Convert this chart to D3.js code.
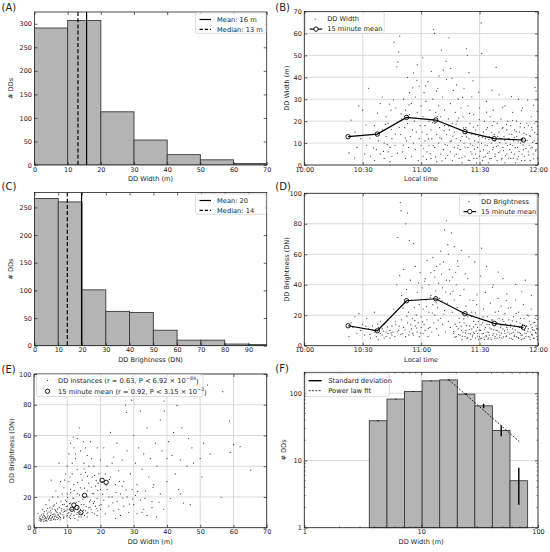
<!DOCTYPE html>
<html>
<head>
<meta charset="utf-8">
<script src="https://cdn.jsdelivr.net/npm/d3@7"></script>
<style>
  body { margin: 0; background: #fff; }
  text { font-family: "DejaVu Sans", sans-serif; fill: #222; }
</style>
</head>
<body>
<div id="fig"></div>
<script>
// ---- data ----

// (A) histogram of DD width
const widthBins = [0, 10, 20, 30, 40, 50, 60, 70];
const widthCounts = [291, 307, 113, 53, 22, 11, 3];
const widthMean = 15.7, widthMedian = 13.1;

// (C) histogram of DD brightness
const brightBins = [0, 10, 20, 30, 40, 50, 60, 70, 80, 90, 100];
const brightCounts = [266, 260, 101, 62, 60, 28, 10, 10, 3, 2];
const brightMean = 19.8, brightMedian = 13.8;

// 15 minute means (minutes after 10:00)
const meanTimes = [22.5, 37.5, 52.5, 67.5, 82.5, 97.5, 112.5];
const meanWidth = [12.9, 14.1, 21.7, 20.5, 15.2, 12.0, 11.4];
const meanBright = [13.1, 9.8, 29.5, 30.8, 21.0, 14.7, 12.0];

// (B) DD width vs time: [minutes after 10:00, width m]
const timeWidth = [
  [23,5.5],[24,20.5],[26,15],[27,8],[28,27],[29,12],[30,25],[31,5],
  [32,9],[33,35],[34,4],[35,14],[36,18],[36,2],[37,7],[38,11],[39,28],[39,5],[40,16],[40,31],[41,3],[41,10],
  [42,13],[42,22],[43,6],[43,19],[44,8],[44,1.5],[44.5,25],[45,12],[45,4],
  [45.5,18],[46,56],[46.5,9],[47,26],[47.5,44.8],[48,47],[48.5,51.6],[49,58.8],[49.5,14],[50,21],[50.5,6],
  [51,30],[51.5,17],[52,3],[52,25],[52.5,11],[53,40],[53,19],[53.5,8],[54,23],[54,33],[54.5,13],[55,4],
  [55,28],[55.5,16],[56,42],[56,10],[56.5,20],[57,7],[57,31],[57.5,15],[58,45.7],[58,24],[58.5,2],[59,12],
  [59,36],[59.5,18],[60,9],[60,27],
  [60.5,15],[61,22],[61,4],[61.5,33],[62,11],[62,18],[62.5,29],[63,6],[63,14],[63.5,38],[64,20],[64,9],
  [64.5,25],[65,3],[65,16],[65.5,12],[66,30],[66.4,61.8],[66.8,60],[67,8],[67,19],[67.5,24],[68,1.5],[68,14],
  [68.5,35],[69,10],[69,27],[69.5,17],[70,5],[70,22],[70.4,52.4],[70.5,12],[71,31],[71.4,43.3],[71.5,7],
  [72,18],[72,25],[72.5,3],[73,14],[73,39],[73.5,9],[74,21],[74.3,58],[74.5,16],[75,28],[75.2,44],[75,6],
  [75.5,11],[76,19],[76,2],[76.5,34],[77,8],[77,15],[77.5,24],[78,5],[78,12],[78.5,20],[79,9],[79,30],
  [79.5,3],[80,16],[80,7],[80.5,26],[81,13],[81,1],[81.5,22],[82,10],[82,35],[82.5,4],[83,17],[83.2,53],
  [83.7,50],[84,8],[84,27],[84.5,12],[85,2],[85,19],[85.5,6],[86,14],[86,31],[86.5,9],[87,3],[87,23],
  [87.5,11],[88,16],[88,5],[88.5,1],[89,18],[89,8],[89.5,13],[90,4],[90,26],[90.8,64.8],[91.1,50.9],
  [91,10],[91.5,2],[92,15],[92,7],[92.5,20],[93,12],[93,4],[93.5,29],[94,9],[94,17],[94.5,1],[95,13],
  [95,6],[95.5,22],[96,10],[96,3],[96.5,18],[97,8],[97,25],[97.5,14],[98,5],[98.5,44.5],[98,11],[99,19],
  [99,2],[99.5,9],[100,15],[100,32],[100.5,6],[101,12],[101,21],[101.5,3],[102,17],[102,8],[102.5,13],
  [103,27],[103,1],[103.5,10],[104,16],[104,5],[104.5,20],[105,12],
  [105.5,7],[106,18],[106,3],[106.5,14],[107,9],[107,24],[107.5,11],[108,5],[108,16],[108.5,1],[109,13],
  [109,20],[109.5,8],[110,30],[110,4],[110.5,15],[111,10],[111,19],[111.5,2],[112,12],[112,26],[112.5,7],
  [113,17],[113,4],[113.5,11],[114,14],[114.7,29.6],[115,6],[115,18],[115.5,9],[116,13],[116,2],[116.5,22],
  [117,8],[117,16],[117.5,5],[118,11],[118.5,35.4],[118,19],[119,33.7],[119,7],[119.5,14],[119.8,3],
  [61.3,7.4],[62.7,2.6],[63.8,11.9],[64.6,5.2],[65.9,19.3],[66.2,8.8],[67.4,3.7],[68.3,22.1],[69.6,12.4],
  [70.7,1.9],[71.8,15.6],[72.3,9.3],[73.6,4.4],[74.1,17.8],[74.9,10.7],[76.3,13.2],[77.2,4.1],[77.9,18.6],
  [78.8,7.7],[79.3,21.4],[80.2,11.1],[80.9,3.3],[81.7,16.9],[82.4,8.2],[83.3,12.8],[84.2,2.2],[84.8,23.5],
  [85.3,9.6],[86.1,5.1],[86.8,17.3],[87.3,7.2],[87.9,13.8],[88.6,3.1],[89.2,10.4],[89.8,20.7],[90.3,6.3],
  [91.4,12.7],[92.2,3.6],[92.8,9.1],[93.4,16.2],[94.2,5.4],[94.8,11.6],[95.3,2.9],[96.2,14.7],[96.8,7.1],
  [97.3,19.8],[97.9,3.9],[98.7,8.4],[99.3,13.1],[99.8,5.7],[100.4,10.2],[101.2,2.4],[101.7,16.8],[102.3,6.6],
  [102.8,11.3],[103.3,4.2],[103.8,18.4],[104.3,8.9],[104.9,3.2],[105.2,14.1],[105.8,9.4],[106.3,5.8],
  [106.9,20.3],[107.3,3.1],[107.8,12.6],[108.3,7.9],[108.8,15.2],[109.3,2.7],[109.8,10.6],[110.3,6.1],
  [110.8,17.4],[111.3,11.8],[111.8,4.9],[112.3,9.2],[112.8,14.6],[113.3,2.1],[113.8,7.5],[114.3,19.1],
  [114.4,11.2],[115.3,4.6],[115.8,13.4],[116.3,7.7],[116.8,17.2],[117.3,10.3],[117.8,2.8],[118.3,14.9],
  [118.8,6.4],[119.3,9.8],[119.7,17.6],[119.6,24.5],[117.6,27.3],[111.6,24.8],[106.4,31.2],[101.9,26.4],
  [96.4,34.1],[93.6,24.1],[89.6,33.2],[86.6,38.4],[84.6,42.1],[81.3,30.8],[78.2,36.5],[75.8,39.6],
  [72.8,47.3],[69.2,40.6],[67.9,33.8],[65.2,42.7],[62.3,36.1],[60.8,48.9],[57.8,38.6],[55.7,35.2],
  [53.8,27.4],[51.8,12.3],[50.8,9.1],[49.7,23.3],[48.8,17.2],[47.8,5.4],[46.8,14.1],[45.8,29.7],[44.7,16.3],
  [43.7,27.8],[42.6,9.4],[41.6,18.5],[40.6,6.2],[38.6,14.6],[37.6,23.7],[35.6,7.8],[33.7,12.3],[31.7,18.2],
  [27.6,13.4],[25.8,3.2]
];

// (D) DD brightness vs time: [minutes after 10:00, DN]
const timeBright = [
  [23,6],[24,15],[25,12],[26,19],[27,8],[28,21],[29,10],[30,14],
  [31,7],[32,18],[33,11],[34,5],[35,13],[36,9],[36,22],[37,6],[38,12],[38,4],[39,8],[39,16],[40,7],[40,11],
  [41,5],[41,14],[42,9],[42,6],[43,17],[43,8],[44,10],[44,5],[45,13],[45,7],
  [45.5,9],[46,24],[46.5,6],[47,14],[47.5,40],[48,71],[48.5,10],[49,46],[49.3,93.9],[49.7,88.6],[50,17],
  [50,33],[50.5,8],[51,50],[51,12],[51.5,28],[52,80],[52,6],[52.5,37],[53,87],[53,15],[53.5,22],[54,69],
  [54,9],[54.5,43],[55,11],[55,30],[55.5,18],[56,67],[56,7],[56.5,25],[57,13],[57,52],[57.5,20],[58,9],
  [58,35],[58.5,15],[59,27],[59,6],[59.5,48],[60,12],[60,19],
  [60.5,38],[61,8],[61,24],[61.5,14],[62,44],[62,10],[62.5,30],[63,17],[63,56],[63.5,6],[64,22],[64,40],
  [64.5,12],[65,33],[65,48],[65.5,9],[66,27],[66,58],[66.5,15],[67,45],[67,20],[67.5,36],[68,11],[68,52],
  [68.5,25],[69,41],[69,7],[69.5,31],[70,62],[70,18],[70.5,47],[71,14],[71,38],[71.5,55],[72,23],[72,76],
  [72.5,9],[73,82],[73,43],[73.5,28],[74,60],[74,16],[74.5,50],[75,34],[75,12],
  [75.5,74],[76,22],[76,45],[76.5,8],[77,30],[77,65],[77.5,14],[78,40],[78,6],[78.5,25],[79,11],[79,52],
  [79.5,18],[80,7],[80,33],[80.5,13],[81,21],[81,4],[81.5,9],[82,37],[82,15],[82.5,6],[83,26],[83,10],
  [83.5,5],[84,19],[84,44],[84.5,8],[85,13],[85,30],[85.5,4],[86,11],[86,22],[86.5,7],[87,16],[87,9],
  [87.5,55],[88,5],[88,14],[88.5,27],[89,8],[89,12],[89.5,4],[90,18],[90,6],
  [90.5,10],[91,64],[91,5],[91.5,15],[92,8],[92,24],[92.5,4],[93,12],[93,35],[93.5,6],[94,9],[94,19],
  [94.5,5],[95,14],[95,7],[95.5,28],[96,11],[96,4],[96.5,17],[97,8],[97,40],[97.5,13],[98,6],[98,22],
  [98.5,10],[99,15],[99,5],[99.5,31],[100,9],[100,18],[100.5,7],[101,13],[101,26],[101.5,5],[102,11],
  [102,44],[102.5,16],[103,8],[103,21],[103.5,6],[104,34],[104,12],[104.5,9],[105,17],
  [105.5,5],[106,14],[106,25],[106.5,8],[107,11],[107,4],[107.5,19],[108,7],[108,13],[108.5,30],[109,6],
  [109,16],[109.5,9],[110,22],[110,5],[110.5,12],[111,8],[111,18],[111.5,4],[112,14],[112,7],[112.5,27],
  [113,10],[113,5],[113.5,43],[114,13],[114,8],[114.5,20],[115,6],[115,11],[115.5,16],[116,4],[116,9],
  [116.5,24],[117,12],[117,7],[117.5,15],[118,5],[118,10],[118.5,18],[119,8],[119,13],[119.5,6],[119.8,11],
  [76.7,9.2],[77.4,5.6],[78.3,12.7],[79.2,7.3],[79.8,15.4],[80.7,10.1],[81.3,6.2],[81.9,17.6],[82.8,8.4],
  [83.3,13.2],[83.9,5.1],[84.7,10.6],[85.2,7.7],[85.8,19.3],[86.3,5.8],[86.9,12.4],[87.3,8.1],[87.8,21.5],
  [88.3,9.6],[88.8,6.3],[89.3,15.8],[89.8,10.2],[90.3,4.6],[90.8,13.7],[91.3,7.8],[91.8,18.9],[92.3,5.7],
  [92.7,10.9],[93.3,6.6],[93.8,14.1],[94.3,4.3],[94.7,8.7],[95.3,11.6],[95.8,5.2],[96.3,16.8],[96.8,6.9],
  [97.3,10.4],[97.8,4.7],[98.3,13.6],[98.8,7.2],[99.3,9.8],[99.8,22.6],[100.3,5.5],[100.8,11.9],[101.3,8.2],
  [101.8,17.1],[102.3,5.8],[102.8,9.7],[103.3,14.4],[103.8,6.4],[104.3,10.8],[104.8,24.7],[105.3,7.6],
  [105.8,12.1],[106.3,4.9],[106.8,16.3],[107.3,8.8],[107.8,6.1],[108.3,10.4],[108.8,21.2],[109.3,12.6],
  [109.8,5.3],[110.3,8.6],[110.8,14.7],[111.3,6.9],[111.8,11.2],[112.3,4.5],[112.8,17.8],[113.3,8.3],
  [113.8,6.2],[114.3,12.9],[114.8,9.4],[115.3,19.6],[115.8,5.7],[116.3,13.8],[116.8,7.4],[117.3,10.6],
  [117.8,4.8],[118.3,15.3],[118.8,8.7],[119.3,11.1],[119.7,4.2],[119.6,17.3],[116.6,33.1],[111.7,35.4],
  [108.6,40.2],[103.7,29.6],[99.6,48.3],[96.6,38.4],[93.6,52.1],[90.6,45.7],[88.7,33.4],[86.7,29.6],
  [84.6,58.3],[82.6,47.1],[80.6,62.4],[78.7,55.6],[77.7,48.2],[76.4,35.8],[74.6,42.6],[73.7,66.3],
  [72.7,35.2],[71.7,20.8],[70.7,29.4],[69.7,53.6],[68.7,16.8],[67.7,28.2],[66.7,49.3],[65.7,21.4],
  [64.7,31.8],[63.7,11.4],[62.7,25.7],[61.7,42.3],[60.7,15.6],[59.7,8.3],[58.7,41.2],[57.7,11.6],
  [56.7,16.4],[55.7,8.2],[54.7,13.7],[53.7,7.1],[52.7,19.4],[51.7,10.3],[50.7,24.6],[49.6,7.4],[48.7,12.8],
  [47.7,9.1],[46.7,15.7],[44.6,8.4],[42.7,12.3],[40.7,9.6],[37.7,14.2],[35.7,10.1],[33.7,7.4],[31.6,12.8]
];

// (E) DD width vs brightness: [width m, DN]
const widthBright = [
  [1.5,5],[2,6],[2.2,4.5],[2.5,7],[3,5.5],[3,8],[3.3,6],[3.6,4.8],[4,7],[4,9.5],[4.3,5.5],[4.6,6.5],
  [5,8],[5,11],[5.3,5],[5.6,7],[6,9],[6,6],[6.3,12],[6.6,7.5],[7,5.5],[7,10],[7.3,8],[7.6,13],[8,6.5],
  [8,9],[8.3,11],[8.6,15],[9,7],[9,12],[1.8,7.5],[2.8,9],[3.8,11],[4.8,13],[5.8,14],[6.8,16],[2.4,5.2],
  [3.4,4.6],[4.4,6],[5.4,6.8],[6.4,5.2],[7.4,6.2],[1.2,9],[2.6,12],[3.6,15],[4.6,18],[5.6,20],[6.6,24],
  [5.2,31],[7.2,20],
  [9.5,18],[10,8],[10,14],[10,22],[10.5,10],[10.5,30],[11,6],[11,16],[11,25],[11.5,12],[11.5,35],[12,8],
  [12,19],[12,28],[12.5,14],[12.5,45],[13,10],[13,22],[13,38],[13.5,7],[13.5,17],[14,12],[14,26],[14,50],
  [14.5,9],[14.5,31],[15,15],[15,20],[15,42],[15.5,11],[15.5,36],[16,7],[16,24],[16,47],[16.5,13],
  [16.5,29],[17,18],[17,56],[17.5,10],[17.5,33],[18,22],[18,40],[18.5,14],[18.5,27],[19,8],[19,19],
  [19,52],[19.5,35],[20,12],[20,25],[20,44],[9,26],[9.5,35],[10,40],[10.5,48],[11,55],[11.8,59],[12,52],
  [8.5,22],[8,30],[7.5,42],[9.2,31],[13.6,65],[12.5,48],[11.5,42],[10.8,33],[13,58],[14.8,56],[15.5,52],
  [16.5,40],[17.3,45],[18.2,34],[19.3,29],[9.8,17],[10.2,12],[11.2,9],[12.3,6],[13.2,5],[14.2,7],[15.2,8],
  [16.2,10],[17.2,12],[18.2,9],[19.2,11],[20.2,15],
  [20.5,30],[21,18],[21,52],[21.5,9],[22,25],[22,40],[22.5,14],[23,33],[23,62],[23.5,20],[24,11],[24,46],
  [24.5,28],[25,17],[25,55],[25.5,37],[26,22],[26,8],[26.5,44],[27,14],[27,30],[27.5,79.8],[27.8,75],
  [28,20],[28,50],[28.5,10],[29,35],[29.4,83],[29.5,25],[30,60],[30,15],[30.5,42],[31,9],[31,28],[31.5,52],
  [32,18],[32,76],[32.5,38],[33,12],[33,48],[33.5,24],[34,65],[34,8],[34.5,33],[35,45],[35.5,17],[36,28],
  [36.5,55],[36.9,7],[37,40],[38,22],[38,70],[38.5,50],[39.1,82.4],[39,12],[39.2,76],[40,30],[40,45],
  [21.5,35],[23.5,42],[26.5,27],[24.5,6],[25.5,12],[22.5,20],[30.5,21],[32.5,10],[35.5,13],
  [41,19],[41.5,47],[42,62],[42.5,35],[43,79.4],[43.5,25],[44,44],[44.5,65],[45,16],[46,40],[47,15],
  [47.5,52],[48,42],[50,45],[50.5,33],[51,55],[52.2,92.8],[53,48],[56.3,19.8],[56.8,88.5],[58.8,69.4],
  [59,49],[60,54],[62,52.7],[65.2,37.5],[40.5,56],[44,22],[46.5,58],
  [1.6,6.2],[2.1,5.4],[2.7,6.8],[3.2,7.3],[3.7,5.9],[4.2,8.2],[4.7,7.4],[5.1,6.1],[5.7,8.6],[6.2,7.1],
  [6.7,10.3],[7.2,8.8],[7.7,7.2],[8.2,12.4],[8.7,8.3],[9.2,10.6],[9.7,13.8],[10.2,9.4],[10.7,15.6],
  [11.2,11.7],[11.7,19.2],[12.2,10.8],[12.7,16.4],[13.2,12.9],[13.7,21.3],[14.2,15.1],[14.7,18.6],
  [15.2,25.7],[15.7,13.7],[16.2,20.1],[16.7,16.8],[17.2,26.4],[17.7,22.3],[18.2,17.1],[18.7,30.6],
  [19.2,24.2],[19.7,14.6],[20.7,21.8],[21.7,27.3],[22.7,31.4],[23.7,16.2],[24.7,22.9],[25.7,30.2],
  [26.7,19.3],[27.7,24.6],[28.7,15.4],[29.7,18.7],[31.2,23.6],[33.4,19.1],[35.8,26.3],[37.6,16.7],
  [1.9,4.3],[2.9,4.1],[3.9,4.4],[4.9,4.9],[5.9,5.3],[6.9,6.7],[7.9,5.1],[8.9,6.2],[9.9,7.3],[10.9,7.8],
  [11.9,12.2],[12.9,8.7],[13.9,9.8],[14.9,11.4],[15.9,9.1],[16.9,13.3],[17.9,15.8],[18.9,12.6],[3.1,10.4],
  [4.1,12.6],[5.1,9.7],[6.1,14.8],[7.1,12.1],[8.1,17.3],[9.1,15.2],[10.1,19.7],[11.1,22.8],[12.1,24.1],
  [13.1,29.4],[14.1,34.7],[15.1,38.2],[16.1,33.5],[6.3,8.3],[7.8,9.6],[8.8,10.2],[9.6,11.1],[10.6,6.8],
  [2.3,8.4],[3.5,6.6],[4.5,10.2],[5.5,12.2],[6.5,11.1]
];

// (F) log-binned width histogram
const logBins = [3.6, 5.1, 7.2, 10.2, 14.4, 20.4, 28.8, 40.7, 57.6, 81.5];
const logCounts = [39, 82, 106, 153, 158, 97, 65, 28, 5];
const logStd = [0.8, 1.2, 1.5, 2, 2.5, 3, 5, 5, 2.8];
const fitX = [17.3, 69.2];
const fitY = [158, 19.1];

// ---- drawing ----
const W = 550, H = 552;
const tickFont = 6.5, labelFont = 6.6, legendFont = 6.7;
const ink = "#222";
const barFill = "#b4b4b4", barEdge = "#3a3a3a", gridColor = "#d6d6d6";

const svg = d3.select("#fig").append("svg")
  .attr("width", W).attr("height", H);

function hhmm(m) {
  const h = 10 + Math.floor(m / 60), mm = m % 60;
  return h + ":" + (mm < 10 ? "0" : "") + mm;
}

// sets up one panel: grid, spines, inward ticks on all sides, labels
function makePanel(box, x, y, o) {
  const g = svg.append("g");
  const plot = g.append("g");
  if (o.grid) {
    g.insert("g", ":first-child").selectAll("line").data(o.xTicks).join("line")
      .attr("x1", d => x(d)).attr("x2", d => x(d))
      .attr("y1", box.t).attr("y2", box.b)
      .attr("stroke", gridColor).attr("stroke-width", 0.9);
    g.insert("g", ":first-child").selectAll("line").data(o.yTicks).join("line")
      .attr("x1", box.l).attr("x2", box.r)
      .attr("y1", d => y(d)).attr("y2", d => y(d))
      .attr("stroke", gridColor).attr("stroke-width", 0.9);
  }
  const finish = function() {
    const axes = g.append("g");
    const styleAxis = sel => {
      sel.select(".domain").remove();
      sel.selectAll(".tick line").attr("stroke", ink).attr("stroke-width", 0.7);
      sel.selectAll(".tick text").attr("font-size", tickFont).attr("fill", ink)
        .attr("font-family", "DejaVu Sans");
    };
    const minorX = o.xMinor || [], minorY = o.yMinor || [];
    axes.append("g").attr("transform", `translate(0,${box.b})`)
      .call(d3.axisBottom(x).tickValues(o.xTicks).tickFormat(o.xFormat || (d => d))
        .tickSizeInner(-3).tickSizeOuter(0).tickPadding(2)).call(styleAxis);
    axes.append("g").attr("transform", `translate(0,${box.t})`)
      .call(d3.axisTop(x).tickValues(o.xTicks).tickFormat("")
        .tickSizeInner(-3).tickSizeOuter(0)).call(styleAxis);
    axes.append("g").attr("transform", `translate(${box.l},0)`)
      .call(d3.axisLeft(y).tickValues(o.yTicks).tickFormat(o.yFormat || (d => d))
        .tickSizeInner(-3).tickSizeOuter(0).tickPadding(2.5)).call(styleAxis);
    axes.append("g").attr("transform", `translate(${box.r},0)`)
      .call(d3.axisRight(y).tickValues(o.yTicks).tickFormat("")
        .tickSizeInner(-3).tickSizeOuter(0)).call(styleAxis);
    if (minorX.length) {
      [box.b, box.t].forEach((yy, k) => {
        axes.append("g").selectAll("line").data(minorX).join("line")
          .attr("x1", d => x(d)).attr("x2", d => x(d))
          .attr("y1", yy).attr("y2", k ? yy + 1.6 : yy - 1.6)
          .attr("stroke", ink).attr("stroke-width", 0.5);
      });
    }
    if (minorY.length) {
      [box.l, box.r].forEach((xx, k) => {
        axes.append("g").selectAll("line").data(minorY).join("line")
          .attr("y1", d => y(d)).attr("y2", d => y(d))
          .attr("x1", xx).attr("x2", k ? xx - 1.6 : xx + 1.6)
          .attr("stroke", ink).attr("stroke-width", 0.5);
      });
    }
    axes.append("rect")
      .attr("x", box.l).attr("y", box.t)
      .attr("width", box.r - box.l).attr("height", box.b - box.t)
      .attr("fill", "none").attr("stroke", ink).attr("stroke-width", 0.8);
    g.append("text").attr("x", (box.l + box.r) / 2).attr("y", box.b + 16)
      .attr("text-anchor", "middle").attr("font-size", labelFont).attr("fill", ink).text(o.xLabel);
    g.append("text")
      .attr("transform", `translate(${box.l - o.yLabelOff},${(box.t + box.b) / 2}) rotate(-90)`)
      .attr("text-anchor", "middle").attr("dy", "0.35em")
      .attr("font-size", labelFont).attr("fill", ink).text(o.yLabel);
  };
  return { g, plot, finish };
}

function legendBox(x0, y0, w, h) {
  svg.append("rect").attr("x", x0).attr("y", y0).attr("width", w).attr("height", h)
    .attr("rx", 1.5).attr("fill", "#fff").attr("fill-opacity", 0.85)
    .attr("stroke", "#cfcfcf").attr("stroke-width", 0.7);
}
function legendText(x0, y0, s) {
  return svg.append("text").attr("x", x0).attr("y", y0).attr("dy", "0.35em")
    .attr("font-size", legendFont).attr("fill", ink).text(s);
}

function panelLabel(x0, y0, s) {
  svg.append("text").attr("x", x0).attr("y", y0)
    .attr("font-family", "Liberation Sans, Arial, sans-serif")
    .attr("font-size", 10).attr("fill", "#111").text(s);
}

// histogram panel (A, C)
function histPanel(box, bins, counts, xMax, yMax, yTicks, xTicks, mean, median, xLabel, meanTxt, medianTxt, legY) {
  const x = d3.scaleLinear().domain([0, xMax]).range([box.l, box.r]);
  const y = d3.scaleLinear().domain([0, yMax]).range([box.b, box.t]);
  const p = makePanel(box, x, y, { xTicks, yTicks, xLabel, yLabel: "# DDs", yLabelOff: 24 });
  p.plot.append("defs").append("clipPath").attr("id", "clip" + legY)
    .append("rect").attr("x", box.l).attr("y", box.t)
    .attr("width", box.r - box.l).attr("height", box.b - box.t);
  p.plot.append("g").attr("clip-path", `url(#clip${legY})`)
    .selectAll("rect").data(counts).join("rect")
    .attr("x", (d, i) => x(bins[i])).attr("width", (d, i) => x(bins[i + 1]) - x(bins[i]))
    .attr("y", d => y(d)).attr("height", d => y(0) - y(d))
    .attr("fill", barFill).attr("stroke", barEdge).attr("stroke-width", 0.9);
  p.plot.append("line").attr("x1", x(mean)).attr("x2", x(mean))
    .attr("y1", box.t).attr("y2", box.b).attr("stroke", "#000").attr("stroke-width", 1.2);
  p.plot.append("line").attr("x1", x(median)).attr("x2", x(median))
    .attr("y1", box.t).attr("y2", box.b).attr("stroke", "#000").attr("stroke-width", 1.2)
    .attr("stroke-dasharray", "4,2.2");
  p.finish();
  legendBox(195.5, legY, 70.5, 20.5);
  svg.append("line").attr("x1", 199.5).attr("x2", 211).attr("y1", legY + 6.7).attr("y2", legY + 6.7)
    .attr("stroke", "#000").attr("stroke-width", 1.2);
  svg.append("line").attr("x1", 199.5).attr("x2", 211).attr("y1", legY + 16.5).attr("y2", legY + 16.5)
    .attr("stroke", "#000").attr("stroke-width", 1.2).attr("stroke-dasharray", "3.4,1.8");
  legendText(217, legY + 6.7, meanTxt);
  legendText(217, legY + 16.5, medianTxt);
}

// time series panel (B, D)
function timePanel(box, pts, means, yMax, yTicks, yLabel, dotLabel, legX, legY, legW) {
  const x = d3.scaleLinear().domain([0, 120]).range([box.l, box.r]);
  const y = d3.scaleLinear().domain([0, yMax]).range([box.b, box.t]);
  const p = makePanel(box, x, y, {
    grid: true, xTicks: [0, 30, 60, 90, 120], yTicks, xFormat: hhmm,
    xLabel: "Local time", yLabel, yLabelOff: 17.5
  });
  p.plot.append("g").selectAll("circle").data(pts).join("circle")
    .attr("cx", d => x(d[0])).attr("cy", d => y(d[1])).attr("r", 0.6).attr("fill", "#333");
  const line = d3.line().x((d, i) => x(meanTimes[i])).y(d => y(d));
  p.plot.append("path").attr("d", line(means)).attr("fill", "none")
    .attr("stroke", "#000").attr("stroke-width", 1.2);
  p.plot.append("g").selectAll("circle").data(means).join("circle")
    .attr("cx", (d, i) => x(meanTimes[i])).attr("cy", d => y(d)).attr("r", 2.2)
    .attr("fill", "none").attr("stroke", "#000").attr("stroke-width", 0.9);
  p.finish();
  legendBox(legX, legY, legW, 21);
  svg.append("circle").attr("cx", legX + 9.5).attr("cy", legY + 6.8).attr("r", 0.6).attr("fill", "#333");
  svg.append("line").attr("x1", legX + 4).attr("x2", legX + 16.5).attr("y1", legY + 16.8).attr("y2", legY + 16.8)
    .attr("stroke", "#000").attr("stroke-width", 1.2);
  svg.append("circle").attr("cx", legX + 10.3).attr("cy", legY + 16.8).attr("r", 2.2)
    .attr("fill", "#fff").attr("stroke", "#000").attr("stroke-width", 0.9);
  legendText(legX + 21.5, legY + 6.8, dotLabel);
  legendText(legX + 21.5, legY + 16.8, "15 minute mean");
}

// (A)
histPanel({ l: 34.5, r: 266.7, t: 12, b: 165 }, widthBins, widthCounts, 70, 325,
  [0, 50, 100, 150, 200, 250, 300], [0, 10, 20, 30, 40, 50, 60, 70],
  widthMean, widthMedian, "DD Width (m)", "Mean: 16 m", "Median: 13 m", 12.8);
panelLabel(1.5, 11.2, "(A)");

// (C)
histPanel({ l: 34.5, r: 266.7, t: 192.5, b: 345.7 }, brightBins, brightCounts, 97.7, 277,
  [0, 50, 100, 150, 200, 250], [0, 10, 20, 30, 40, 50, 60, 70, 80, 90],
  brightMean, brightMedian, "DD Brightness (DN)", "Mean: 20", "Median: 14", 193.8);
panelLabel(1.5, 189.6, "(C)");

// (B)
timePanel({ l: 304.3, r: 538, t: 11.5, b: 165 }, timeWidth, meanWidth, 70,
  [0, 10, 20, 30, 40, 50, 60, 70], "DD Width (m)", "DD Width", 305.7, 12.3, 78.5);
panelLabel(275.3, 10.8, "(B)");

// (D)
timePanel({ l: 304.3, r: 538, t: 193.3, b: 345.7 }, timeBright, meanBright, 100,
  [0, 20, 40, 60, 80, 100], "DD Brightness (DN)", "DD Brightness", 459.5, 194.8, 77.2);
panelLabel(275.3, 190.4, "(D)");

// (E)
(function() {
  const box = { l: 34, r: 266.7, t: 374, b: 527.7 };
  const x = d3.scaleLinear().domain([0, 70]).range([box.l, box.r]);
  const y = d3.scaleLinear().domain([0, 100]).range([box.b, box.t]);
  const p = makePanel(box, x, y, {
    grid: true, xTicks: [0, 10, 20, 30, 40, 50, 60, 70], yTicks: [0, 20, 40, 60, 80, 100],
    xLabel: "DD Width (m)", yLabel: "DD Brightness (DN)", yLabelOff: 22
  });
  p.plot.append("g").selectAll("circle").data(widthBright).join("circle")
    .attr("cx", d => x(d[0])).attr("cy", d => y(d[1])).attr("r", 0.6).attr("fill", "#333");
  p.plot.append("g").selectAll("circle").data(meanWidth).join("circle")
    .attr("cx", d => x(d)).attr("cy", (d, i) => y(meanBright[i])).attr("r", 2.2)
    .attr("fill", "none").attr("stroke", "#000").attr("stroke-width", 0.9);
  p.finish();
  legendBox(36.5, 374.5, 166.5, 22);
  svg.append("circle").attr("cx", 47.5).attr("cy", 380.3).attr("r", 0.6).attr("fill", "#333");
  svg.append("circle").attr("cx", 47.5).attr("cy", 391.3).attr("r", 2.2)
    .attr("fill", "none").attr("stroke", "#000").attr("stroke-width", 0.9);
  const t1 = legendText(58, 380.3, "DD instances (r = 0.63, P < 6.92 \u00d7 10");
  t1.append("tspan").attr("dy", "-0.65em").attr("font-size", 4.8).text("\u221289");
  t1.append("tspan").attr("dy", "0.65em").text(")");
  const t2 = legendText(58, 391.3, "15 minute mean (r = 0.92, P < 3.15 \u00d7 10");
  t2.append("tspan").attr("dy", "-0.65em").attr("font-size", 4.8).text("\u22123");
  t2.append("tspan").attr("dy", "0.65em").text(")");
  panelLabel(1.5, 373, "(E)");
})();

// (F)
(function() {
  const box = { l: 304.3, r: 538, t: 372.3, b: 527.7 };
  const x = d3.scaleLog().domain([1, 100]).range([box.l, box.r]);
  const y = d3.scaleLog().domain([1, 205]).range([box.b, box.t]);
  const minor = [2, 3, 4, 5, 6, 7, 8, 9, 20, 30, 40, 50, 60, 70, 80, 90];
  const p = makePanel(box, x, y, {
    grid: true, xTicks: [1, 10, 100], yTicks: [1, 10, 100],
    xMinor: minor, yMinor: minor.concat([200]),
    xLabel: "DD Width (m)", yLabel: "# DDs", yLabelOff: 21
  });
  p.plot.append("g").selectAll("rect").data(logCounts).join("rect")
    .attr("x", (d, i) => x(logBins[i])).attr("width", (d, i) => x(logBins[i + 1]) - x(logBins[i]))
    .attr("y", d => y(d)).attr("height", d => y(1) - y(d))
    .attr("fill", barFill).attr("stroke", barEdge).attr("stroke-width", 0.9);
  p.plot.append("g").selectAll("line").data(logCounts).join("line")
    .attr("x1", (d, i) => x(Math.sqrt(logBins[i] * logBins[i + 1])))
    .attr("x2", (d, i) => x(Math.sqrt(logBins[i] * logBins[i + 1])))
    .attr("y1", (d, i) => y(d - logStd[i])).attr("y2", (d, i) => y(d + logStd[i]))
    .attr("stroke", "#000").attr("stroke-width", 1.4);
  p.plot.append("line").attr("x1", x(fitX[0])).attr("x2", x(fitX[1]))
    .attr("y1", y(fitY[0])).attr("y2", y(fitY[1]))
    .attr("stroke", "#000").attr("stroke-width", 0.8).attr("stroke-dasharray", "2,1.4");
  p.finish();
  legendBox(305.7, 373.3, 83.6, 23.4);
  svg.append("line").attr("x1", 308.5).attr("x2", 321.7).attr("y1", 380.7).attr("y2", 380.7)
    .attr("stroke", "#000").attr("stroke-width", 1.4);
  svg.append("line").attr("x1", 308.5).attr("x2", 321.7).attr("y1", 390.7).attr("y2", 390.7)
    .attr("stroke", "#000").attr("stroke-width", 0.8).attr("stroke-dasharray", "2,1.4");
  legendText(328.3, 380.7, "Standard deviation");
  legendText(328.3, 390.7, "Power law fit");
  panelLabel(275.3, 372, "(F)");
})();
</script>
</body>
</html>
